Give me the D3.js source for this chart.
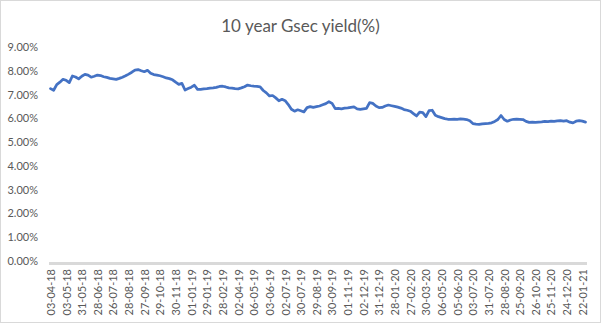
<!DOCTYPE html>
<html>
<head>
<meta charset="utf-8">
<script src="https://cdn.jsdelivr.net/npm/d3@7"></script>
<style>
  html, body { margin: 0; padding: 0; background: #fff; }
  svg { display: block; }
  text { font-family: Lato, "Open Sans", sans-serif; fill: #595959; }
</style>
</head>
<body>
<svg id="chart" width="601" height="323"></svg>
<script>
// 10-year G-sec yield (%), one reading every 4 trading days, Apr 2018 – Jan 2021
const yields = [
  7.25, 7.18, 7.42, 7.52, 7.64, 7.60, 7.50, 7.78, 7.74, 7.66,
  7.77, 7.85, 7.82, 7.73, 7.77, 7.82, 7.80, 7.75, 7.72, 7.68,
  7.66, 7.64, 7.68, 7.73, 7.79, 7.86, 7.94, 8.03, 8.05, 8.00,
  7.96, 8.02, 7.90, 7.84, 7.82, 7.79, 7.75, 7.70, 7.67, 7.62,
  7.52, 7.43, 7.47, 7.19, 7.25, 7.31, 7.39, 7.22, 7.22, 7.24,
  7.25, 7.27, 7.28, 7.30, 7.34, 7.35, 7.32, 7.28, 7.27, 7.25,
  7.24, 7.28, 7.33, 7.40, 7.37, 7.35, 7.34, 7.32, 7.17, 7.07,
  6.94, 6.96, 6.86, 6.74, 6.80, 6.74, 6.58, 6.38, 6.30, 6.36,
  6.32, 6.27, 6.45, 6.49, 6.46, 6.49, 6.52, 6.57, 6.62, 6.70,
  6.63, 6.41, 6.42, 6.40, 6.43, 6.44, 6.46, 6.48, 6.40, 6.38,
  6.40, 6.42, 6.66, 6.63, 6.52, 6.45, 6.46, 6.52, 6.56, 6.53,
  6.50, 6.47, 6.43, 6.37, 6.34, 6.30, 6.20, 6.10, 6.26, 6.24,
  6.07, 6.32, 6.34, 6.13, 6.07, 6.03, 5.99, 5.96, 5.96, 5.97,
  5.96, 5.98, 5.97, 5.95, 5.90, 5.78, 5.76, 5.75, 5.77, 5.78,
  5.79, 5.81, 5.87, 5.95, 6.12, 5.95, 5.88, 5.93, 5.96, 5.97,
  5.96, 5.95, 5.87, 5.83, 5.84, 5.83, 5.84, 5.85, 5.87, 5.86,
  5.88, 5.87, 5.89, 5.90, 5.88, 5.90, 5.84, 5.81, 5.88, 5.90,
  5.88, 5.84
];
const sampleStep = 4;   // trading days between readings

// Category labels, one every 20 trading days
const dateLabels = [
  "03-04-18", "03-05-18", "31-05-18", "28-06-18", "26-07-18", "28-08-18",
  "27-09-18", "29-10-18", "30-11-18", "01-01-19", "29-01-19", "28-02-19",
  "02-04-19", "06-05-19", "03-06-19", "02-07-19", "30-07-19", "29-08-19",
  "30-09-19", "01-11-19", "02-12-19", "31-12-19", "28-01-20", "27-02-20",
  "30-03-20", "06-05-20", "05-06-20", "03-07-20", "31-07-20", "28-08-20",
  "25-09-20", "26-10-20", "25-11-20", "24-12-20", "22-01-21"
];
const labelStep = 20;

const yTicks = [0, 1, 2, 3, 4, 5, 6, 7, 8, 9];
const title = "10 year Gsec yield(%)";

const W = 601, H = 323;
const svg = d3.select("#chart");

// outer chart border
svg.append("rect")
  .attr("x", 0.5).attr("y", 0.5)
  .attr("width", W - 1).attr("height", H - 1)
  .attr("fill", "#fff").attr("stroke", "#d9d9d9");

const lastIndex = (yields.length - 1) * sampleStep;
const x = d3.scaleLinear().domain([0, lastIndex]).range([50.5, 585.5]);
const y = d3.scaleLinear().domain([0, 9]).range([261, 47]);

// title
svg.append("text")
  .attr("x", W / 2).attr("y", 32)
  .attr("text-anchor", "middle")
  .style("font-size", "17px")
  .text(title);

// y axis labels (no axis line, no gridlines)
const yAxis = d3.axisLeft(y)
  .tickValues(yTicks)
  .tickFormat(d => d3.format(".2f")(d) + "%")
  .tickSize(0).tickPadding(0);
const gy = svg.append("g").attr("transform", "translate(38,0)").call(yAxis);
gy.select(".domain").remove();
gy.selectAll("text")
  .style("font-size", "11px")
  .style("font-family", "Lato, sans-serif")
  .attr("fill", "#595959");

// x axis baseline
svg.append("line")
  .attr("x1", 49).attr("x2", 587)
  .attr("y1", y(0) + 2.5).attr("y2", y(0) + 2.5)
  .attr("stroke", "#d9d9d9").attr("stroke-width", 3);

// rotated category labels
const labelIdx = dateLabels.map((_, i) => i * labelStep);
const xAxis = d3.axisBottom(x)
  .tickValues(labelIdx)
  .tickFormat((d, i) => dateLabels[i])
  .tickSize(0).tickPadding(0);
const gx = svg.append("g").attr("transform", `translate(0,${y(0) + 8})`).call(xAxis);
gx.select(".domain").remove();
gx.selectAll("text")
  .style("font-size", "11px")
  .style("font-family", "Lato, sans-serif")
  .attr("fill", "#595959")
  .attr("transform", "rotate(-90)")
  .attr("text-anchor", "end")
  .attr("x", 0).attr("y", 0)
  .attr("dx", 0).attr("dy", "0.35em");

// yield line
const line = d3.line()
  .x((d, i) => x(i * sampleStep))
  .y(d => y(d));
svg.append("path")
  .datum(yields)
  .attr("d", line)
  .attr("fill", "none")
  .attr("stroke", "#4472c4")
  .attr("stroke-width", 2.75)
  .attr("stroke-linejoin", "round")
  .attr("stroke-linecap", "round");
</script>
</body>
</html>
